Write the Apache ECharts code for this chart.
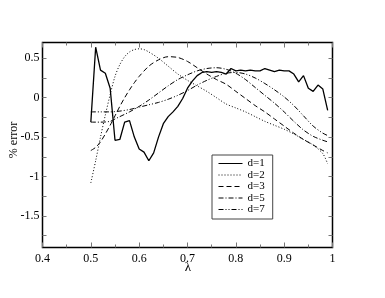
<!DOCTYPE html>
<html><head><meta charset="utf-8">
<script src="https://cdn.jsdelivr.net/npm/echarts@6/dist/echarts.min.js"></script>
<style>html,body{margin:0;padding:0;background:#fff;overflow:hidden}#c{width:385px;height:298px}</style>
</head><body><div id="c"></div>
<script>
// ---- data ----
const lambda1 = [0.50,0.51,0.52,0.53,0.54,0.55,0.56,0.57,0.58,0.59,0.60,0.61,0.62,0.63,0.64,0.65,0.66,0.67,0.68,0.69,0.70,0.71,0.72,0.73,0.74,0.75,0.76,0.77,0.78,0.79,0.80,0.81,0.82,0.83,0.84,0.85,0.86,0.87,0.88,0.89,0.90,0.91,0.92,0.93,0.94,0.95,0.96,0.97,0.98,0.99];
const err1 = [-0.31,0.64,0.35,0.31,0.12,-0.54,-0.53,-0.31,-0.29,-0.50,-0.65,-0.69,-0.80,-0.70,-0.50,-0.33,-0.24,-0.18,-0.11,-0.01,0.12,0.21,0.28,0.32,0.33,0.32,0.33,0.32,0.30,0.37,0.34,0.35,0.34,0.35,0.34,0.34,0.37,0.35,0.33,0.35,0.34,0.34,0.30,0.20,0.28,0.12,0.08,0.16,0.11,-0.16];

const lambda2 = [0.50,0.51,0.52,0.53,0.54,0.55,0.56,0.57,0.58,0.59,0.60,0.61,0.62,0.64,0.66,0.68,0.70,0.72,0.74,0.76,0.78,0.80,0.82,0.84,0.86,0.88,0.90,0.92,0.94,0.96,0.98,0.99];
const err2 = [-1.08,-0.80,-0.50,-0.22,0.04,0.27,0.42,0.52,0.58,0.61,0.62,0.61,0.58,0.50,0.40,0.30,0.22,0.15,0.08,0.00,-0.08,-0.13,-0.18,-0.24,-0.30,-0.35,-0.40,-0.46,-0.53,-0.60,-0.71,-0.84];

const lambda3 = [0.50,0.51,0.52,0.53,0.54,0.55,0.56,0.57,0.58,0.59,0.60,0.62,0.64,0.66,0.68,0.70,0.72,0.74,0.76,0.78,0.80,0.82,0.84,0.86,0.88,0.90,0.92,0.94,0.96,0.98,0.99];
const err3 = [-0.67,-0.63,-0.56,-0.46,-0.35,-0.23,-0.11,0.00,0.10,0.19,0.27,0.40,0.48,0.52,0.51,0.46,0.38,0.30,0.23,0.17,0.08,-0.01,-0.10,-0.18,-0.27,-0.36,-0.45,-0.53,-0.60,-0.67,-0.70];

const lambda5 = [0.50,0.52,0.54,0.55,0.56,0.58,0.60,0.62,0.64,0.66,0.68,0.70,0.72,0.74,0.76,0.78,0.80,0.82,0.84,0.86,0.88,0.90,0.92,0.94,0.96,0.98,0.99];
const err5 = [-0.31,-0.31,-0.30,-0.27,-0.24,-0.18,-0.11,-0.03,0.06,0.15,0.23,0.29,0.34,0.37,0.38,0.36,0.31,0.23,0.13,0.03,-0.07,-0.18,-0.30,-0.41,-0.49,-0.54,-0.56];

const lambda7 = [0.50,0.52,0.54,0.56,0.58,0.60,0.62,0.64,0.66,0.68,0.70,0.72,0.74,0.76,0.78,0.80,0.82,0.84,0.86,0.88,0.90,0.92,0.94,0.96,0.98,0.99];
const err7 = [-0.18,-0.18,-0.18,-0.17,-0.15,-0.12,-0.09,-0.06,-0.02,0.03,0.09,0.16,0.22,0.27,0.31,0.32,0.30,0.25,0.18,0.10,0.01,-0.10,-0.23,-0.36,-0.45,-0.48];

const seriesNames = ['d=1','d=2','d=3','d=5','d=7'];
const yLabels = [-1.5,-1,-0.5,0,0.5];
const yTicks = [-1.75,-1.5,-1.25,-1,-0.75,-0.5,-0.25,0,0.25,0.5];

// ---- chart ----
const FONT = 'Liberation Serif, Times New Roman, serif';
const pairs = (xs, ys) => xs.map((x, i) => [x, ys[i]]);

function xAx(pos, labels) {
  return {
    type: 'value', position: pos, min: 0.4, max: 1, interval: 0.1,
    axisLine: { show: true, onZero: false, lineStyle: { color: '#000', width: 1 } },
    axisTick: { show: true, inside: true, length: 5, lineStyle: { color: '#777' } },
    minorTick: { show: true, splitNumber: 2, length: 3, lineStyle: { color: '#777' } },
    axisLabel: { show: labels, margin: 5, fontFamily: FONT, fontSize: 12, color: '#000',
      formatter: v => String(Math.round(v * 10) / 10) },
    splitLine: { show: false }
  };
}
function yAx(pos, labels) {
  return {
    type: 'value', position: pos, min: -1.9, max: 0.7,
    axisLine: { show: true, onZero: false, lineStyle: { color: '#000', width: 1 } },
    axisTick: { show: true, inside: true, length: 4, customValues: yTicks, lineStyle: { color: '#777' } },
    axisLabel: { show: labels, customValues: yLabels, margin: 3, fontFamily: FONT, fontSize: 12, color: '#000',
      formatter: v => String(v) },
    splitLine: { show: false }
  };
}

const chart = echarts.init(document.getElementById('c'), null, { renderer: 'canvas' });
const dashTypes = ['solid', [1, 2], [5, 3], [5, 2, 1, 2], [5, 2, 1, 2, 1, 2]];
const datas = [pairs(lambda1, err1), pairs(lambda2, err2), pairs(lambda3, err3), pairs(lambda5, err5), pairs(lambda7, err7)];

chart.setOption({
  animation: false,
  backgroundColor: '#fff',
  grid: { left: 42.5, top: 42.5, right: 52.5, bottom: 50.5, containLabel: false, outerBoundsMode: 'none',
    show: true, borderColor: '#000', borderWidth: 1.5, backgroundColor: 'transparent' },
  xAxis: [xAx('bottom', true), xAx('top', false)],
  yAxis: [yAx('left', true), yAx('right', false)],
  legend: {
    data: seriesNames, orient: 'vertical', left: 212, top: 155,
    backgroundColor: '#fff', borderColor: '#444', borderWidth: 1,
    padding: [3, 8, 4, 6], itemWidth: 24, itemHeight: 8, itemGap: 0.5,
    itemStyle: { opacity: 0 },
    lineStyle: { width: 1 },
    textStyle: { fontFamily: FONT, fontSize: 11, lineHeight: 11, color: '#000' }
  },
  graphic: [
    { type: 'text', x: 14, y: 140, rotation: Math.PI / 2,
      style: { text: '% error', font: '12px ' + FONT, fill: '#000', align: 'center', verticalAlign: 'middle' } },
    { type: 'text', x: 188, y: 268,
      style: { text: 'λ', font: '13px ' + FONT, fill: '#000', align: 'center', verticalAlign: 'middle' } }
  ],
  series: seriesNames.map((n, i) => ({
    name: n, type: 'line', data: datas[i], xAxisIndex: 0, yAxisIndex: 0,
    symbol: 'none', showSymbol: false, smooth: i === 0 ? false : 0.3,
    lineStyle: { color: '#000', width: i === 0 ? 1.3 : 1, type: dashTypes[i] },
    itemStyle: { color: '#000' }
  }))
});
</script></body></html>
